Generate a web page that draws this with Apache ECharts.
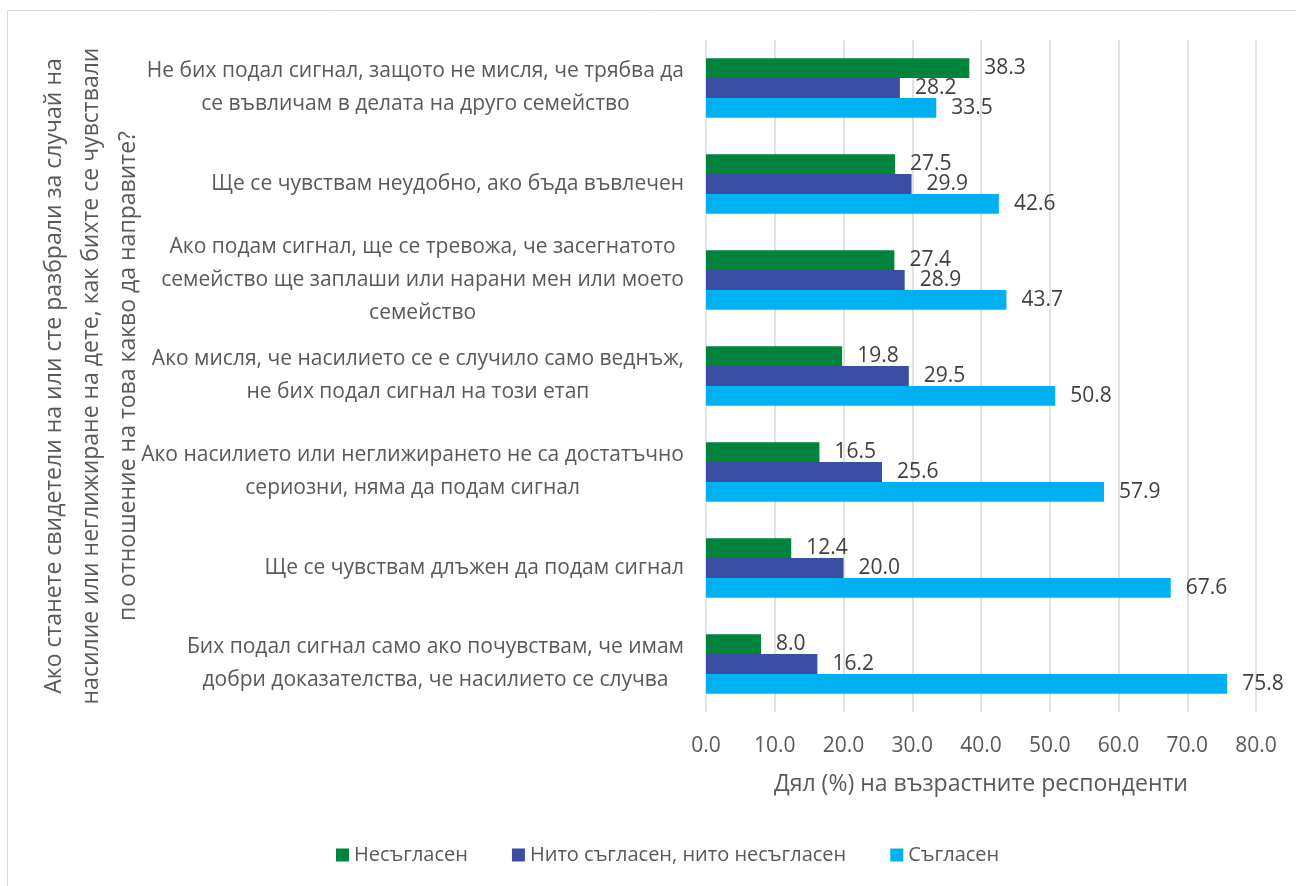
<!DOCTYPE html>
<html>
<head>
<meta charset="utf-8">
<script src="https://cdn.jsdelivr.net/npm/echarts@6/dist/echarts.min.js"></script>
<style>
html,body{margin:0;padding:0;background:#fff;}
#chart{width:1296px;height:886px;}
</style>
</head>
<body>
<div id="chart"></div>
<script>
const categories = [
  "Не бих подал сигнал, защото не мисля, че трябва да\nсе въвличам в делата на друго семейство",
  "Ще се чувствам неудобно, ако бъда въвлечен",
  "Ако подам сигнал, ще се тревожа, че засегнатото\nсемейство ще заплаши или нарани мен или моето\nсемейство",
  "Ако мисля, че насилието се е случило само веднъж,\nне бих подал сигнал на този етап",
  "Ако насилието или неглижирането не са достатъчно\nсериозни, няма да подам сигнал",
  "Ще се чувствам длъжен да подам сигнал",
  "Бих подал сигнал само ако почувствам, че имам\nдобри доказателства, че насилието се случва"
];
const seriesNames = ["Несъгласен", "Нито съгласен, нито несъгласен", "Съгласен"];
const disagree = [38.3, 27.5, 27.4, 19.8, 16.5, 12.4, 8.0];
const neutral = [28.2, 29.9, 28.9, 29.5, 25.6, 20.0, 16.2];
const agree = [33.5, 42.6, 43.7, 50.8, 57.9, 67.6, 75.8];
const xTicks = [0, 10, 20, 30, 40, 50, 60, 70, 80];
const yAxisTitle = "Ако станете свидетели на или сте разбрали за случай на\nнасилие или неглижиране на дете, как бихте се чувствали\nпо отношение на това какво да направите?";
const xAxisTitle = "Дял (%) на възрастните респонденти";

const FONT = "'Open Sans', 'Noto Sans', sans-serif";
const catFontSize = 21;
const colors = ["#00843D", "#3A4FA3", "#00B0F0"];

const chart = echarts.init(document.getElementById('chart'));
const mkSeries = (name, data, idx) => ({
  name: name,
  type: 'bar',
  data: data,
  barGap: '0%',
  barCategoryGap: '38%',
  itemStyle: { color: colors[idx] },
  label: {
    show: true,
    position: 'right',
    distance: 15,
    offset: [0, 0],
    formatter: p => p.value.toFixed(1),
    color: '#404040',
    fontFamily: FONT,
    fontSize: 21
  }
});

chart.setOption({
  animation: false,
  textStyle: { fontFamily: FONT },
  graphic: [{
    type: 'rect',
    shape: { x: 7.5, y: 10.5, width: 1400, height: 1000 },
    style: { fill: null, stroke: '#d9d9d9', lineWidth: 1 },
    silent: true, z: -10
  }],
  legend: {
    data: seriesNames,
    bottom: 16,
    left: 331,
    itemWidth: 13,
    itemHeight: 13,
    itemGap: 44,
    icon: 'rect',
    textStyle: { color: '#595959', fontFamily: FONT, fontSize: 20 }
  },
  grid: { left: 706, right: 40, top: 40, bottom: 174, containLabel: false },
  xAxis: {
    type: 'value',
    min: 0, max: 80, interval: 10,
    name: xAxisTitle,
    nameLocation: 'middle',
    nameGap: 61,
    nameTextStyle: { color: '#595959', fontFamily: FONT, fontSize: 23 },
    axisLabel: {
      formatter: v => v.toFixed(1),
      color: '#595959', fontFamily: FONT, fontSize: 21, margin: 24
    },
    axisLine: { show: false },
    axisTick: { show: false },
    splitLine: { show: true, lineStyle: { color: '#d9d9d9', width: 1.5 } }
  },
  yAxis: {
    type: 'category',
    inverse: true,
    data: categories,
    name: yAxisTitle,
    nameLocation: 'middle',
    nameRotate: 90,
    nameGap: 559,
    nameMoveOverlap: false,
    nameTextStyle: { color: '#595959', fontFamily: FONT, fontSize: 23, lineHeight: 37, align: 'center' },
    axisLine: { show: false },
    axisTick: { show: false },
    axisLabel: {
      margin: 22,
      color: '#595959',
      fontFamily: FONT,
      fontSize: catFontSize,
      lineHeight: 33,
      formatter: function (v) {
        return v.split('\n').map(l => '{c|' + l + '}').join('\n');
      },
      rich: {
        c: { color: '#595959', fontFamily: FONT, fontSize: catFontSize, lineHeight: 33, align: 'center' }
      }
    }
  },
  series: [
    mkSeries(seriesNames[0], disagree, 0),
    mkSeries(seriesNames[1], neutral, 1),
    mkSeries(seriesNames[2], agree, 2)
  ]
});
</script>
</body>
</html>
